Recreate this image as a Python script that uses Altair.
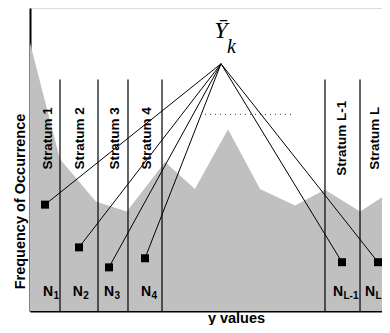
import altair as alt
import pandas as pd

# ---- data (x: "y values" scale 0-100, y: frequency scale 0-100) ----
dist_x = [0, 8.3, 18.3, 26.9, 37.5, 45.8, 55.0, 63.9, 73.6, 81.9, 91.7, 100]
dist_freq = [88.5, 50.2, 36.1, 32.8, 49.2, 40.3, 60.0, 40.3, 34.8, 40.0, 32.8, 39.3]

strata_bounds = [8.33, 18.89, 27.22, 36.67, 81.94, 91.67]
strata_top = 76.4
strata_names = ["Stratum 1", "Stratum 2", "Stratum 3", "Stratum 4", "Stratum L-1", "Stratum L"]
strata_label_x = [5.0, 13.9, 23.6, 32.5, 86.7, 96.7]
strata_label_y = 57.0

sample_x = [4.17, 13.61, 21.94, 31.94, 86.67, 96.67]
sample_y = [35.1, 21.0, 14.4, 17.4, 16.1, 16.1]

apex_x = 53.06
apex_y = 81.6

n_subscripts = ["1", "2", "3", "4", "L-1", "L"]
n_x = [3.61, 11.86, 20.56, 30.83, 84.17, 93.89]
n_y = 4.9

dotted_x = [48.6, 73.1]
dotted_y = 64.9

mean_label_y = 90.1
mean_sub_y = 85.3

# ---- tables ----
dist = pd.DataFrame({"x": dist_x, "f": dist_freq})
bounds = pd.DataFrame({"x": strata_bounds, "y0": [0] * len(strata_bounds), "y1": [strata_top] * len(strata_bounds)})
slabels = pd.DataFrame({"x": strata_label_x, "y": [strata_label_y] * 6, "t": strata_names})
samples = pd.DataFrame({"x": sample_x, "y": sample_y, "ax": [apex_x] * 6, "ay": [apex_y] * 6})
nlab = pd.DataFrame({"x": n_x, "y": [n_y] * 6, "sub": n_subscripts, "N": ["N"] * 6})
dotted = pd.DataFrame({"x": [dotted_x[0]], "x2": [dotted_x[1]], "y": [dotted_y]})
mean_lab = pd.DataFrame({"x": [apex_x], "y": [mean_label_y], "t": ["Ȳ"]})
mean_sub = pd.DataFrame({"x": [apex_x], "y": [mean_sub_y], "t": ["k"]})

# the x range runs 8px past the visible plot so the right edge is cut like the reference
xs = alt.Scale(domain=[0, 100], range=[0, 360], nice=False, zero=False)
ys = alt.Scale(domain=[0, 100], nice=False, zero=False)

X = alt.X("x:Q", scale=xs,
          axis=alt.Axis(title="y values", labels=False, ticks=False, grid=False,
                        domainColor="black", domainWidth=2,
                        titleFont="Liberation Sans", titleFontSize=14.5, titleFontWeight="bold",
                        titleX=206, titleY=11, titleBaseline="alphabetic", titleAlign="center"))
Y = alt.Y("f:Q", scale=ys,
          axis=alt.Axis(title="Frequency of Occurrence", labels=False, ticks=False, grid=False,
                        domainColor="black", domainWidth=2,
                        titleFont="Liberation Sans", titleFontSize=14.5, titleFontWeight="bold",
                        titleX=-9.5, titleY=193, titleAngle=270, titleBaseline="middle",
                        titleAlign="center"))

area = alt.Chart(dist).mark_area(color="#c0c0c0", opacity=1).encode(x=X, y=Y)

rules = alt.Chart(bounds).mark_rule(color="black", strokeWidth=1.2).encode(
    x=alt.X("x:Q", scale=xs), y=alt.Y("y0:Q", scale=ys), y2="y1:Q")

stext_style = dict(angle=270, font="Liberation Sans", fontWeight="bold", fontSize=13.5,
                   baseline="middle", align="center", color="black")
stext_enc = dict(x=alt.X("x:Q", scale=xs), y=alt.Y("y:Q", scale=ys), text="t:N")
stext = alt.Chart(slabels).transform_filter("datum.t != 'Stratum L'").mark_text(
    **stext_style).encode(**stext_enc)
# last label nudged left so it stays inside the visible page
stext_last = alt.Chart(slabels).transform_filter("datum.t == 'Stratum L'").mark_text(
    dy=-3, **stext_style).encode(**stext_enc)

links = alt.Chart(samples).mark_rule(color="black", strokeWidth=1).encode(
    x=alt.X("x:Q", scale=xs), y=alt.Y("y:Q", scale=ys), x2="ax:Q", y2="ay:Q")

pts = alt.Chart(samples).mark_square(color="black", size=64, opacity=1).encode(
    x=alt.X("x:Q", scale=xs), y=alt.Y("y:Q", scale=ys))

dots = alt.Chart(dotted).mark_rule(color="#333333", strokeWidth=1, strokeDash=[1, 4]).encode(
    x=alt.X("x:Q", scale=xs), x2="x2:Q", y=alt.Y("y:Q", scale=ys))

n_style = dict(font="Liberation Sans", fontWeight="bold", fontSize=14, align="left",
               baseline="alphabetic", color="black")
s_style = dict(font="Liberation Sans", fontWeight="bold", fontSize=10, align="left",
               baseline="alphabetic", color="black")
pos = dict(x=alt.X("x:Q", scale=xs), y=alt.Y("y:Q", scale=ys))

ntext = alt.Chart(nlab).transform_filter("datum.sub != 'L'").mark_text(**n_style).encode(text="N:N", **pos)
nsub = alt.Chart(nlab).transform_filter("datum.sub != 'L'").mark_text(dx=10.5, dy=3, **s_style).encode(text="sub:N", **pos)
ntext_last = alt.Chart(nlab).transform_filter("datum.sub == 'L'").mark_text(dx=-3, **n_style).encode(text="N:N", **pos)
nsub_last = alt.Chart(nlab).transform_filter("datum.sub == 'L'").mark_text(dx=7.5, dy=3, **s_style).encode(text="sub:N", **pos)

mtext = alt.Chart(mean_lab).mark_text(
    font="Liberation Serif", fontStyle="italic", fontSize=24, align="center",
    baseline="alphabetic", color="black").encode(text="t:N", **pos)

msub = alt.Chart(mean_sub).mark_text(
    font="Liberation Serif", fontStyle="italic", fontSize=20, align="left",
    baseline="alphabetic", color="black", dx=6).encode(text="t:N", **pos)

chart = alt.layer(area, rules, stext, stext_last, links, pts, dots,
                  ntext, nsub, ntext_last, nsub_last, mtext, msub).properties(
    width=352, height=303,
    autosize=alt.AutoSizeParams(type="none"),
    padding={"left": 22, "top": 0, "right": 0, "bottom": 14},
).configure_view(stroke=None).configure(background="white")

chart.save("out.html", embed_options={"renderer": "svg", "actions": False})
